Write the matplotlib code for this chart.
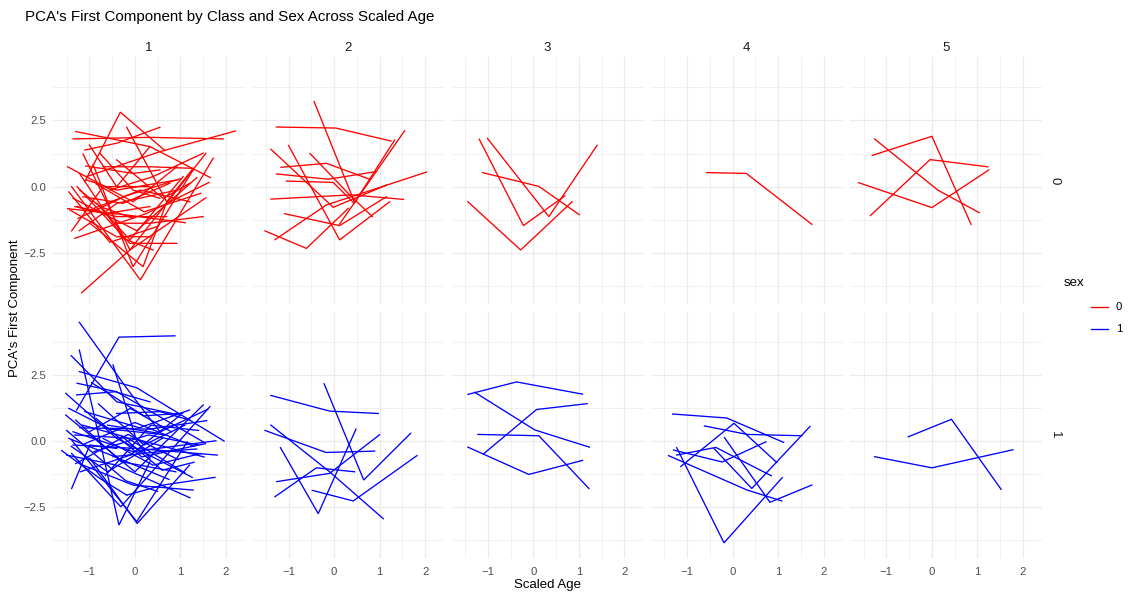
import matplotlib
matplotlib.use("Agg")
import matplotlib.pyplot as plt

plt.rcParams['font.family'] = ['Liberation Sans', 'DejaVu Sans']

# each line = one individual, points (scaled age, PCA first component)
sex0_class1 = [
    [(-1.10, 0.19), (-0.32, 2.81), (0.66, 1.36)],
    [(-1.36, 1.80), (0.33, 1.86), (1.94, 1.80)],
    [(-1.30, 2.08), (0.33, 1.51), (1.66, 0.34)],
    [(-1.10, 1.38), (-0.40, 1.64), (0.55, 2.24)],
    [(-0.18, 2.24), (0.70, -0.57), (1.28, 0.69)],
    [(-1.14, 1.23), (-0.11, -2.39), (1.56, 1.26)],
    [(-1.00, 1.57), (-0.40, 0.00), (0.33, 1.51)],
    [(-1.06, 0.38), (0.55, 1.32), (2.21, 2.10)],
    [(-1.48, 0.75), (-0.04, -0.57), (0.92, 0.75)],
    [(-1.08, 0.78), (-0.04, 0.50), (0.55, 0.63)],
    [(-1.39, 0.00), (0.12, -3.52), (1.72, 1.07)],
    [(-1.27, 0.00), (-0.11, -2.14), (0.92, -2.14)],
    [(-1.48, -0.83), (-0.18, -1.07), (1.11, -1.36)],
    [(-1.17, -4.00), (-0.11, -2.39), (1.56, -0.42)],
    [(-1.22, -1.66), (-0.40, -0.63), (0.92, -0.13)],
    [(-1.39, -1.67), (-0.70, 0.00), (0.33, 0.00)],
    [(-1.32, -1.95), (0.26, -1.01), (1.63, 0.16)],
    [(-0.92, 0.84), (-0.04, -3.02), (1.28, 0.63)],
    [(-0.40, 1.01), (0.62, -0.44), (1.21, 0.13)],
    [(-0.99, -1.38), (0.18, -3.02), (0.70, -0.57)],
    [(-1.43, -0.88), (-0.40, -1.89), (0.33, -1.89)],
    [(-0.77, 1.26), (-0.04, -0.13), (0.55, -0.44)],
    [(-1.28, -0.75), (-0.62, -1.01), (0.33, -0.75)],
    [(-1.06, 0.25), (-0.40, -0.13), (0.92, 0.25)],
    [(-0.84, -0.63), (-0.11, -2.01), (1.06, 0.38)],
    [(-1.14, -0.38), (-0.26, -0.63), (0.77, 0.13)],
    [(-1.32, -0.75), (-0.40, -1.13), (0.70, -1.13)],
    [(-0.70, 0.75), (0.33, 0.75), (1.28, 0.69)],
    [(-1.21, -0.13), (-0.77, -0.75), (-0.04, -1.19)],
    [(-0.40, -1.38), (0.33, -1.38), (1.50, -1.13)],
    [(-1.36, -0.44), (0.04, -1.66), (1.36, 0.34)],
    [(-0.55, -0.13), (0.40, 0.38), (1.50, 1.26)],
    [(-1.22, 0.50), (-0.26, -1.95), (0.40, -2.39)],
    [(-0.99, -0.88), (0.12, -0.13), (1.21, -0.57)],
    [(-1.25, -1.20), (-0.20, -0.35), (1.00, 0.30)],
    [(-0.85, 0.10), (0.20, -0.95), (1.45, -0.25)],
    [(-1.45, -0.20), (-0.55, -2.10), (0.50, -1.50)],
]
sex0_class2 = [
    [(-1.27, 2.25), (0.04, 2.21), (1.25, 1.72)],
    [(-0.44, 3.21), (0.45, -0.60), (1.33, 1.76)],
    [(-1.39, 1.41), (-0.02, -0.78), (1.15, 0.06)],
    [(-1.00, 1.55), (0.12, -2.01), (1.22, -0.57)],
    [(-0.53, 1.25), (0.34, -0.31), (0.84, -1.13)],
    [(-1.17, 0.73), (-0.17, 0.88), (0.78, 0.28)],
    [(-1.27, 0.48), (-0.13, 0.28), (0.93, 0.57)],
    [(-1.05, 0.21), (-0.02, 0.16), (0.44, -0.63)],
    [(-1.39, -0.47), (0.38, -0.31), (1.52, -0.48)],
    [(-1.09, -1.02), (0.12, -1.47), (1.15, -0.38)],
    [(-1.52, -1.67), (-0.61, -2.33), (0.31, -0.82)],
    [(-1.30, -2.00), (-0.17, -0.69), (2.03, 0.55)],
    [(0.12, -1.41), (1.55, 2.11)],
]
sex0_class3 = [
    [(-1.19, 1.79), (-0.22, -1.47), (0.69, -0.35)],
    [(-1.01, 1.82), (0.34, -1.13), (1.40, 1.56)],
    [(-1.12, 0.53), (0.12, 0.01), (1.01, -1.06)],
    [(-1.44, -0.57), (-0.28, -2.39), (0.85, -0.57)],
]
sex0_class4 = [
    [(-0.57, 0.53), (0.30, 0.50), (1.74, -1.42)],
]
sex0_class5 = [
    [(-1.31, 1.18), (0.00, 1.90), (0.86, -1.42)],
    [(-1.26, 1.80), (0.13, -0.13), (1.04, -0.98)],
    [(-1.35, -1.09), (-0.04, 1.02), (1.23, 0.75)],
    [(-1.61, 0.15), (0.00, -0.79), (1.25, 0.63)],
]
sex1_class1 = [
    [(-1.22, 4.48), (-0.18, 1.99), (0.55, 0.35)],
    [(-1.28, 1.17), (-0.35, 3.92), (0.88, 3.97)],
    [(-1.40, 3.22), (-0.40, 1.48), (0.99, 0.98)],
    [(-1.22, 3.43), (-0.35, -3.17), (0.33, -0.78)],
    [(-0.48, 2.87), (0.04, 0.00), (0.33, -0.65)],
    [(-1.22, 2.62), (0.04, 2.01), (1.96, 0.00)],
    [(-1.27, 2.18), (-0.40, 1.86), (1.50, -0.03)],
    [(-1.52, 1.80), (-0.40, 0.10), (1.26, -1.37)],
    [(-1.28, 1.74), (-0.44, 1.86), (0.33, 1.48)],
    [(-1.52, 0.98), (0.00, -1.16), (1.50, 1.36)],
    [(-1.39, 0.04), (0.04, -3.04), (1.15, -0.03)],
    [(-1.61, -0.36), (-0.77, -1.41), (-0.18, -2.04)],
    [(-1.39, -1.79), (-0.99, -0.15), (-0.40, -0.28)],
    [(-1.39, -0.47), (-0.31, -2.48), (1.65, 1.30)],
    [(-0.18, -2.04), (0.62, -1.66), (1.76, -1.37)],
    [(-1.36, 0.35), (-0.04, -0.40), (1.78, 0.01)],
    [(-1.36, -0.15), (0.04, -0.28), (1.81, -0.53)],
    [(-1.21, 0.50), (0.33, 0.45), (1.58, 0.77)],
    [(-0.40, 1.04), (0.55, 1.11), (1.21, 0.79)],
    [(-1.14, -0.91), (-0.04, -1.66), (1.28, -1.85)],
    [(-1.32, 0.23), (-0.04, 0.10), (1.52, -0.60)],
    [(-0.99, -0.65), (0.05, -3.11), (1.20, -0.91)],
    [(-1.50, -0.53), (-0.40, -0.91), (1.21, -2.14)],
    [(-0.48, -0.59), (0.55, -0.40), (1.36, -0.30)],
    [(-1.45, 1.23), (-0.55, 0.45), (0.70, 0.23)],
    [(-1.10, 1.11), (0.10, 0.50), (1.20, 1.17)],
    [(-0.90, -0.40), (0.30, 0.23), (1.40, -0.15)],
    [(-1.30, 0.79), (-0.30, -0.78), (0.90, -1.16)],
    [(-0.70, 0.10), (0.40, -0.91), (1.45, -0.47)],
    [(-1.00, 0.35), (-0.10, 1.23), (0.80, 0.35)],
    [(-1.40, -0.20), (-0.60, -1.16), (0.60, 0.10)],
    [(-0.80, 1.40), (0.20, -0.15), (1.10, 0.60)],
    [(-1.20, -1.16), (-0.10, -0.53), (1.00, 0.98)],
    [(-0.60, 0.60), (0.50, 0.30), (1.60, 1.20)],
    [(-1.10, -0.10), (0.00, 0.70), (1.30, -0.20)],
    [(-0.30, 0.20), (0.60, -1.10), (1.30, -0.80)],
    [(-1.50, 0.40), (-0.20, -1.50), (0.50, -1.90)],
    [(-0.95, 2.20), (0.20, 0.95), (1.05, 1.05)],
    [(-1.30, -0.85), (-0.15, 0.25), (0.95, -0.70)],
    [(-0.85, 0.85), (0.15, -0.60), (1.55, -0.10)],
    [(-1.45, 0.10), (-0.50, -0.55), (0.75, -1.45)],
    [(-0.65, -1.30), (0.35, 0.60), (1.40, 0.40)],
    [(-1.15, 0.60), (-0.20, 0.15), (1.10, -1.20)],
]
sex1_class2 = [
    [(-1.39, 1.72), (-0.10, 1.13), (0.97, 1.04)],
    [(-0.22, 2.16), (0.65, -1.47), (1.68, 0.29)],
    [(-1.52, 0.40), (-0.18, -0.43), (0.89, -0.38)],
    [(-1.39, 0.60), (-0.10, -1.16), (1.08, -2.93)],
    [(-1.18, -0.25), (-0.35, -2.74), (0.48, 0.45)],
    [(-1.26, -1.53), (-0.10, -1.22), (1.00, 0.24)],
    [(-1.30, -2.10), (-0.39, -1.01), (0.45, -1.16)],
    [(-0.48, -1.86), (0.42, -2.26), (1.82, -0.55)],
]
sex1_class3 = [
    [(-1.44, 1.76), (-0.37, 2.23), (1.08, 1.77)],
    [(-1.29, 1.84), (0.03, 0.42), (1.23, -0.23)],
    [(-1.10, -0.49), (0.07, 1.19), (1.18, 1.41)],
    [(-1.22, 0.25), (0.12, 0.20), (1.22, -1.79)],
    [(-1.44, -0.23), (-0.10, -1.26), (1.08, -0.73)],
]
sex1_class4 = [
    [(-1.32, 1.02), (-0.13, 0.87), (1.12, -0.05)],
    [(-0.62, 0.57), (0.32, 0.25), (1.52, 0.20)],
    [(-1.14, -0.96), (0.03, 0.67), (0.97, -0.81)],
    [(-1.23, -0.25), (-0.19, -3.84), (1.09, -1.38)],
    [(-1.30, -0.34), (-0.23, -0.79), (0.73, -0.03)],
    [(-1.41, -0.55), (0.32, -1.85), (1.08, -2.26)],
    [(-1.23, -0.53), (-0.37, -0.24), (0.85, -1.31)],
    [(-0.18, 0.13), (0.82, -2.31), (1.74, -1.66)],
    [(-0.41, -0.28), (0.42, -1.79), (1.70, 0.55)],
]
sex1_class5 = [
    [(-0.52, 0.16), (0.43, 0.82), (1.52, -1.82)],
    [(-1.26, -0.59), (0.00, -1.01), (1.78, -0.33)],
]

classes = ["1", "2", "3", "4", "5"]
sexes = ["0", "1"]
sex_colors = {"0": "#FF0000", "1": "#0000FF"}
panels = {
    ("0", "1"): sex0_class1, ("0", "2"): sex0_class2, ("0", "3"): sex0_class3,
    ("0", "4"): sex0_class4, ("0", "5"): sex0_class5,
    ("1", "1"): sex1_class1, ("1", "2"): sex1_class2, ("1", "3"): sex1_class3,
    ("1", "4"): sex1_class4, ("1", "5"): sex1_class5,
}

W, H = 1131, 594
fig = plt.figure(figsize=(W / 100, H / 100), dpi=100)
fig.patch.set_facecolor("white")

def px_axes(left, top, width, height):
    return fig.add_axes([left / W, 1 - (top + height) / H, width / W, height / H])

pw, ph = 192, 246.5
lefts = [53 + i * 199.25 for i in range(5)]
tops = [57.3, 311.7]
grid_col = "#EBEBEB"
txt_col = "#4D4D4D"

for r, sx in enumerate(sexes):
    for c, cl in enumerate(classes):
        ax = px_axes(lefts[c], tops[r], pw, ph)
        ax.set_xlim(-1.80, 2.42)
        ax.set_ylim(-4.42, 4.88)
        ax.set_xticks([-1, 0, 1, 2])
        ax.set_xticks([-1.5, -0.5, 0.5, 1.5], minor=True)
        ax.set_yticks([-2.5, 0, 2.5])
        ax.set_yticks([-3.75, -1.25, 1.25, 3.75], minor=True)
        ax.grid(which="major", color=grid_col, lw=0.9)
        ax.grid(which="minor", color=grid_col, lw=0.5)
        ax.set_axisbelow(True)
        for s in ax.spines.values():
            s.set_visible(False)
        ax.tick_params(which="both", length=0, colors=txt_col, labelsize=8.2)
        ax.tick_params(axis="x", pad=6)
        ax.tick_params(axis="y", pad=5)
        if r == 1:
            ax.set_xticklabels(["\u22121", "0", "1", "2"])
        else:
            ax.set_xticklabels([])
        if c == 0:
            ax.set_yticklabels(["\u22122.5", "0.0", "2.5"])
        else:
            ax.set_yticklabels([])
        for line in panels[(sx, cl)]:
            xs = [p[0] for p in line]
            ys = [p[1] for p in line]
            ax.plot(xs, ys, color=sex_colors[sx], lw=0.95, solid_joinstyle="miter")
        if r == 0:
            ax.text(0.5, 1.015, cl, transform=ax.transAxes, ha="center",
                    va="bottom", fontsize=9.5, color="#1A1A1A")
        if c == 4:
            ax.text(1.035, 0.5, sx, transform=ax.transAxes, ha="left",
                    va="center", rotation=-90, fontsize=9.5, color="#1A1A1A")

fig.text(25 / W, 1 - 17 / H, "PCA's First Component by Class and Sex Across Scaled Age",
         ha="left", va="center", fontsize=10.9, color="black")
fig.text(547.5 / W, 1 - 585 / H, "Scaled Age", ha="center", va="center",
         fontsize=9.5, color="black")
fig.text(15 / W, 1 - 307.7 / H, "PCA's First Component", ha="center", va="center",
         rotation=90, fontsize=9.5, color="black")

# legend
fig.text(1064 / W, 1 - 283 / H, "sex", ha="left", va="center", fontsize=9.5)
for i, sx in enumerate(sexes):
    yk = 1 - (306.5 + i * 22.7) / H
    fig.add_artist(plt.Line2D([1091 / W, 1108 / W], [yk, yk], color=sex_colors[sx], lw=0.95))
    fig.text(1116 / W, yk, sx, ha="left", va="center", fontsize=8.2, color="black")

fig.savefig("out.png", dpi=100, facecolor="white")
